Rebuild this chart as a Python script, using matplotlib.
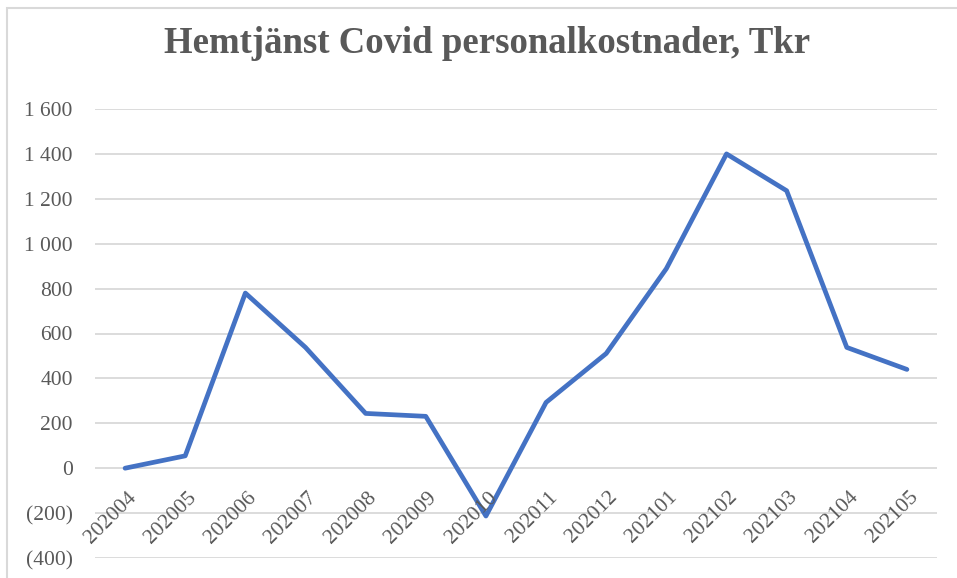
import matplotlib

matplotlib.use("Agg")

import matplotlib.pyplot as plt
from matplotlib.patches import Rectangle
from matplotlib.ticker import FuncFormatter, MultipleLocator
from matplotlib.transforms import offset_copy

MONTHS = ["202004", "202005", "202006", "202007", "202008", "202009", "202010",
          "202011", "202012", "202101", "202102", "202103", "202104", "202105"]
COSTS = [0, 55, 780, 538, 244, 231, -213, 293, 511, 889, 1400, 1236, 538, 440]

TITLE = "Hemtjänst Covid personalkostnader, Tkr"
TEXT_GRAY = "#595959"
GRID_GRAY = "#D9D9D9"
LINE_BLUE = "#4472C4"

plt.rcParams["font.family"] = ["Liberation Serif", "DejaVu Serif"]


def _fmt(value, _pos):
    v = int(round(value))
    s = f"{abs(v):,}".replace(",", " ")
    return f"({s})" if v < 0 else s


fig = plt.figure(figsize=(9.57, 5.78), dpi=100)
fig.add_artist(Rectangle((7 / 957, -0.1), 1.2, 1 - 8 / 578 + 0.1, transform=fig.transFigure,
                         fill=False, edgecolor=GRID_GRAY, linewidth=1.5))

ax = fig.add_axes([95 / 957, 1 - 558 / 578, (937 - 95) / 957, (558 - 109) / 578])
x = list(range(len(MONTHS)))
ax.plot(x, COSTS, color=LINE_BLUE, linewidth=3.4, solid_joinstyle="round",
        solid_capstyle="round", zorder=3)

ax.set_xlim(-0.5, len(MONTHS) - 0.5)
ax.set_ylim(-400, 1600)
ax.yaxis.set_major_locator(MultipleLocator(200))
ax.yaxis.set_major_formatter(FuncFormatter(_fmt))
ax.grid(axis="y", color=GRID_GRAY, linewidth=1.3)
ax.set_axisbelow(True)
ax.set_xticks([])
ax.tick_params(axis="y", length=0, pad=16, labelsize=15.5, labelcolor=TEXT_GRAY)
for spine in ax.spines.values():
    spine.set_visible(False)

label_tf = offset_copy(ax.transData, fig=fig, x=6, y=-19, units="points")
for i, month in enumerate(MONTHS):
    ax.text(i, 0, month, transform=label_tf, rotation=45, ha="right", va="center",
            rotation_mode="anchor", fontsize=15.5, color=TEXT_GRAY)

fig.text(487 / 957, 1 - 53 / 578, TITLE, ha="center", va="baseline",
         fontsize=26.5, fontweight="bold", color=TEXT_GRAY)

fig.savefig("out.png", dpi=100)
